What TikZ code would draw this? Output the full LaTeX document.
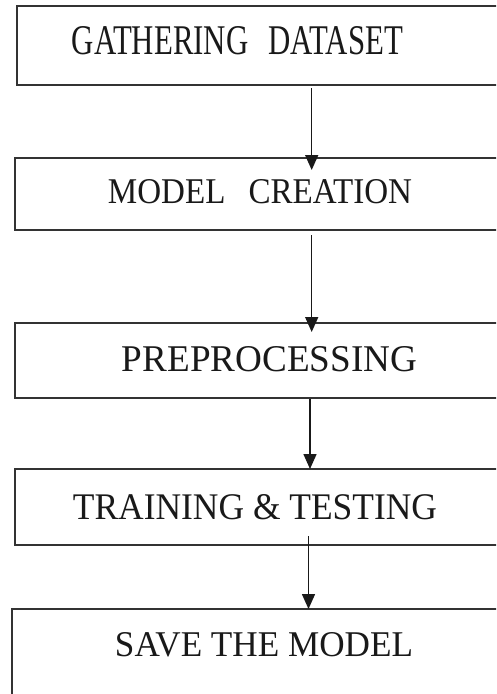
\documentclass[tikz,border=0pt]{standalone}
\usepackage{fontspec}
\setmainfont{Liberation Serif}
\usetikzlibrary{arrows.meta}
\begin{document}
\begin{tikzpicture}[x=1pt,y=-1pt,
  stage/.style={draw=black!80, line width=1.9pt, anchor=north west, inner sep=0pt, outer sep=0pt},
  caption/.style={inner sep=0pt, text=black!90},
  flow/.style={line width=1.5pt, draw=black!90, -{Triangle[width=13pt,length=15pt]}}]
\useasboundingbox (0,0) rectangle (496,694);
\clip (0,0) rectangle (496,694);
\fill[white] (0,0) rectangle (496,694);

% process stages (they run past the right edge of the page)
\node[stage, minimum width=500pt, minimum height=79pt]  (b1) at (17,6)   {};
\node[stage, minimum width=500pt, minimum height=72pt]  (b2) at (15,158) {};
\node[stage, minimum width=500pt, minimum height=75pt]  (b3) at (15,323) {};
\node[stage, minimum width=500pt, minimum height=76pt]  (b4) at (15,469) {};
\node[stage, minimum width=510pt, minimum height=120pt] (b5) at (12,609) {};

% stage titles
\node[caption] (t1) at (237.5,41.2) {\resizebox{331pt}{28pt}{GATHERING\hspace{0.65em}DATASET}};
\node[caption] (t2) at (260,192)    {\resizebox{304pt}{24pt}{MODEL\hspace{0.7em}CREATION}};
\node[caption] (t3) at (269.5,359.5){\resizebox{295pt}{25pt}{PREPROCESSING}};
\node[caption] (t4) at (255,507.5)  {\resizebox{364pt}{25pt}{TRAINING \& TESTING}};
\node[caption] (t5) at (264,645)    {\resizebox{298pt}{24pt}{SAVE THE MODEL}};

% arrow columns
\coordinate (c1) at (311.7,0);
\coordinate (c2) at (311.7,0);
\coordinate (c3) at (310,0);
\coordinate (c4) at (308.5,0);

\draw[flow, shorten <=3pt,  shorten >=-12pt] (b1.south -| c1) -- (b2.north -| c1);
\draw[flow, shorten <=5pt,  shorten >=-9pt]  (b2.south -| c2) -- (b3.north -| c2);
\draw[flow, shorten <=1pt]                   (b3.south -| c3) -- (b4.north -| c3);
\draw[flow, shorten <=-9pt]                  (b4.south -| c4) -- (b5.north -| c4);
\end{tikzpicture}
\end{document}
